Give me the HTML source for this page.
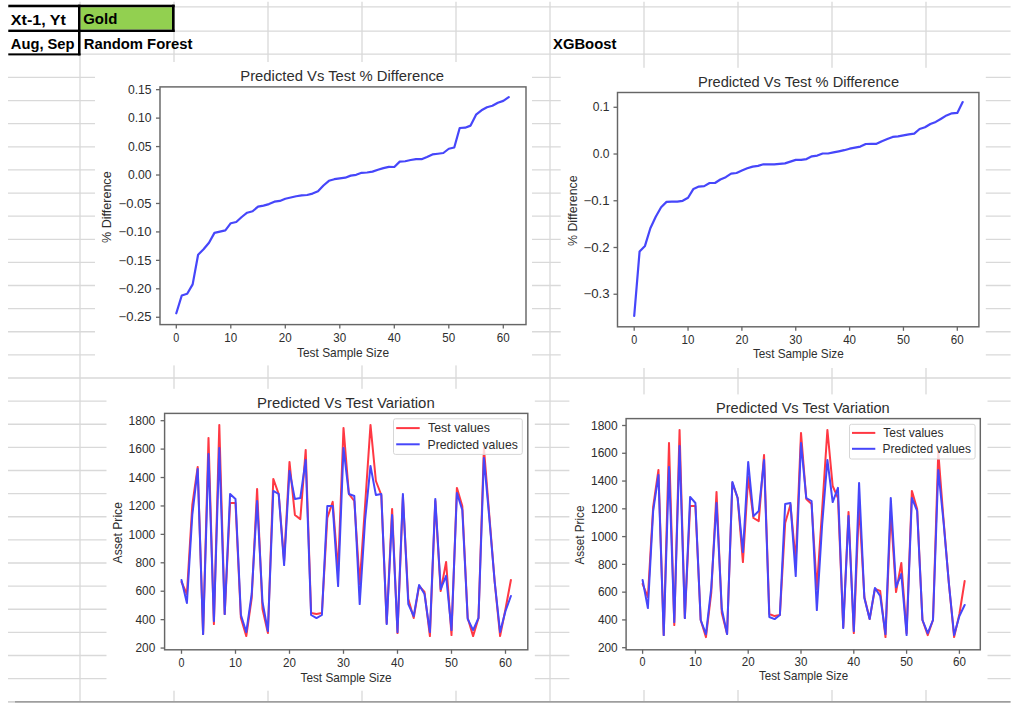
<!DOCTYPE html>
<html><head><meta charset="utf-8"><title>Gold forecasts</title>
<style>
html,body{margin:0;padding:0;background:#fff;width:1024px;height:711px;overflow:hidden}
svg{position:absolute;left:0;top:0;font-family:"Liberation Sans", sans-serif}
</style></head><body>
<svg width="1024" height="711" viewBox="0 0 1024 711">
<line x1="8" y1="6.90" x2="1010.6" y2="6.90" stroke="#d9d9d9" stroke-width="1.3"/>
<line x1="8" y1="31.20" x2="1010.6" y2="31.20" stroke="#d9d9d9" stroke-width="1.3"/>
<line x1="8" y1="54.20" x2="1010.6" y2="54.20" stroke="#d9d9d9" stroke-width="1.3"/>
<line x1="8" y1="77.40" x2="1010.6" y2="77.40" stroke="#d9d9d9" stroke-width="1.3"/>
<line x1="8" y1="100.53" x2="1010.6" y2="100.53" stroke="#d9d9d9" stroke-width="1.3"/>
<line x1="8" y1="123.65" x2="1010.6" y2="123.65" stroke="#d9d9d9" stroke-width="1.3"/>
<line x1="8" y1="146.78" x2="1010.6" y2="146.78" stroke="#d9d9d9" stroke-width="1.3"/>
<line x1="8" y1="169.90" x2="1010.6" y2="169.90" stroke="#d9d9d9" stroke-width="1.3"/>
<line x1="8" y1="193.03" x2="1010.6" y2="193.03" stroke="#d9d9d9" stroke-width="1.3"/>
<line x1="8" y1="216.15" x2="1010.6" y2="216.15" stroke="#d9d9d9" stroke-width="1.3"/>
<line x1="8" y1="239.28" x2="1010.6" y2="239.28" stroke="#d9d9d9" stroke-width="1.3"/>
<line x1="8" y1="262.40" x2="1010.6" y2="262.40" stroke="#d9d9d9" stroke-width="1.3"/>
<line x1="8" y1="285.52" x2="1010.6" y2="285.52" stroke="#d9d9d9" stroke-width="1.3"/>
<line x1="8" y1="308.65" x2="1010.6" y2="308.65" stroke="#d9d9d9" stroke-width="1.3"/>
<line x1="8" y1="331.77" x2="1010.6" y2="331.77" stroke="#d9d9d9" stroke-width="1.3"/>
<line x1="8" y1="354.90" x2="1010.6" y2="354.90" stroke="#d9d9d9" stroke-width="1.3"/>
<line x1="8" y1="378.02" x2="1010.6" y2="378.02" stroke="#d9d9d9" stroke-width="1.3"/>
<line x1="8" y1="401.15" x2="1010.6" y2="401.15" stroke="#d9d9d9" stroke-width="1.3"/>
<line x1="8" y1="424.27" x2="1010.6" y2="424.27" stroke="#d9d9d9" stroke-width="1.3"/>
<line x1="8" y1="447.40" x2="1010.6" y2="447.40" stroke="#d9d9d9" stroke-width="1.3"/>
<line x1="8" y1="470.52" x2="1010.6" y2="470.52" stroke="#d9d9d9" stroke-width="1.3"/>
<line x1="8" y1="493.65" x2="1010.6" y2="493.65" stroke="#d9d9d9" stroke-width="1.3"/>
<line x1="8" y1="516.77" x2="1010.6" y2="516.77" stroke="#d9d9d9" stroke-width="1.3"/>
<line x1="8" y1="539.90" x2="1010.6" y2="539.90" stroke="#d9d9d9" stroke-width="1.3"/>
<line x1="8" y1="563.02" x2="1010.6" y2="563.02" stroke="#d9d9d9" stroke-width="1.3"/>
<line x1="8" y1="586.15" x2="1010.6" y2="586.15" stroke="#d9d9d9" stroke-width="1.3"/>
<line x1="8" y1="609.27" x2="1010.6" y2="609.27" stroke="#d9d9d9" stroke-width="1.3"/>
<line x1="8" y1="632.40" x2="1010.6" y2="632.40" stroke="#d9d9d9" stroke-width="1.3"/>
<line x1="8" y1="655.52" x2="1010.6" y2="655.52" stroke="#d9d9d9" stroke-width="1.3"/>
<line x1="8" y1="678.65" x2="1010.6" y2="678.65" stroke="#d9d9d9" stroke-width="1.3"/>
<line x1="80" y1="1.8" x2="80" y2="702" stroke="#d9d9d9" stroke-width="1.3"/>
<line x1="174" y1="1.8" x2="174" y2="702" stroke="#d9d9d9" stroke-width="1.3"/>
<line x1="268" y1="1.8" x2="268" y2="702" stroke="#d9d9d9" stroke-width="1.3"/>
<line x1="362" y1="1.8" x2="362" y2="702" stroke="#d9d9d9" stroke-width="1.3"/>
<line x1="456" y1="1.8" x2="456" y2="702" stroke="#d9d9d9" stroke-width="1.3"/>
<line x1="550" y1="1.8" x2="550" y2="702" stroke="#d9d9d9" stroke-width="1.3"/>
<line x1="644" y1="1.8" x2="644" y2="702" stroke="#d9d9d9" stroke-width="1.3"/>
<line x1="738" y1="1.8" x2="738" y2="702" stroke="#d9d9d9" stroke-width="1.3"/>
<line x1="832" y1="1.8" x2="832" y2="702" stroke="#d9d9d9" stroke-width="1.3"/>
<line x1="926" y1="1.8" x2="926" y2="702" stroke="#d9d9d9" stroke-width="1.3"/>
<line x1="8" y1="701.9" x2="15" y2="701.9" stroke="#cfcfcf" stroke-width="1.6"/>
<line x1="15" y1="701.9" x2="1010.6" y2="701.9" stroke="#9e9e9e" stroke-width="1.6"/>
<rect x="95" y="62" width="437.00" height="303.40" fill="#fff"/>
<rect x="560.7" y="67.8" width="425.10" height="300.20" fill="#fff"/>
<rect x="106.5" y="388.8" width="428.30" height="301.90" fill="#fff"/>
<rect x="569.4" y="394.4" width="418.10" height="295.60" fill="#fff"/>
<rect x="80.5" y="7.2" width="91.5" height="22.4" fill="#92d050"/>
<rect x="8.3" y="4.7" width="166.30" height="2.50" fill="#000"/>
<rect x="8.3" y="29.6" width="166.30" height="2.40" fill="#000"/>
<rect x="8.3" y="53.4" width="72.20" height="2.00" fill="#000"/>
<rect x="78.0" y="4.7" width="2.50" height="50.70" fill="#000"/>
<rect x="172.0" y="4.7" width="2.60" height="27.30" fill="#000"/>
<text x="10.83" y="24.50" font-size="15.3" font-weight="bold" fill="#000" textLength="55.13" lengthAdjust="spacingAndGlyphs">Xt-1, Yt</text>
<text x="83.23" y="24.30" font-size="15.3" font-weight="bold" fill="#000" textLength="34.13" lengthAdjust="spacingAndGlyphs">Gold</text>
<text x="10.83" y="48.80" font-size="15.3" font-weight="bold" fill="#000" textLength="63.68" lengthAdjust="spacingAndGlyphs">Aug, Sep</text>
<text x="83.73" y="48.50" font-size="15.3" font-weight="bold" fill="#000" textLength="108.63" lengthAdjust="spacingAndGlyphs">Random Forest</text>
<text x="553.03" y="49.00" font-size="15.3" font-weight="bold" fill="#000" textLength="63.33" lengthAdjust="spacingAndGlyphs">XGBoost</text>
<rect x="160.0" y="86.9" width="366.00" height="237.70" fill="none" stroke="#666666" stroke-width="1.45"/>
<line x1="156.00" y1="89.67" x2="160.0" y2="89.67" stroke="#666666" stroke-width="1.3"/>
<text x="151.60" y="93.87" font-size="12.2" fill="#2e2e2e" text-anchor="end" textLength="23.70" lengthAdjust="spacingAndGlyphs">0.15</text>
<line x1="156.00" y1="118.12" x2="160.0" y2="118.12" stroke="#666666" stroke-width="1.3"/>
<text x="151.60" y="122.32" font-size="12.2" fill="#2e2e2e" text-anchor="end" textLength="23.70" lengthAdjust="spacingAndGlyphs">0.10</text>
<line x1="156.00" y1="146.57" x2="160.0" y2="146.57" stroke="#666666" stroke-width="1.3"/>
<text x="151.60" y="150.77" font-size="12.2" fill="#2e2e2e" text-anchor="end" textLength="23.70" lengthAdjust="spacingAndGlyphs">0.05</text>
<line x1="156.00" y1="175.02" x2="160.0" y2="175.02" stroke="#666666" stroke-width="1.3"/>
<text x="151.60" y="179.22" font-size="12.2" fill="#2e2e2e" text-anchor="end" textLength="23.70" lengthAdjust="spacingAndGlyphs">0.00</text>
<line x1="156.00" y1="203.47" x2="160.0" y2="203.47" stroke="#666666" stroke-width="1.3"/>
<text x="151.60" y="207.67" font-size="12.2" fill="#2e2e2e" text-anchor="end" textLength="33.00" lengthAdjust="spacingAndGlyphs">−0.05</text>
<line x1="156.00" y1="231.92" x2="160.0" y2="231.92" stroke="#666666" stroke-width="1.3"/>
<text x="151.60" y="236.12" font-size="12.2" fill="#2e2e2e" text-anchor="end" textLength="33.00" lengthAdjust="spacingAndGlyphs">−0.10</text>
<line x1="156.00" y1="260.36" x2="160.0" y2="260.36" stroke="#666666" stroke-width="1.3"/>
<text x="151.60" y="264.56" font-size="12.2" fill="#2e2e2e" text-anchor="end" textLength="33.00" lengthAdjust="spacingAndGlyphs">−0.15</text>
<line x1="156.00" y1="288.81" x2="160.0" y2="288.81" stroke="#666666" stroke-width="1.3"/>
<text x="151.60" y="293.01" font-size="12.2" fill="#2e2e2e" text-anchor="end" textLength="33.00" lengthAdjust="spacingAndGlyphs">−0.20</text>
<line x1="156.00" y1="317.26" x2="160.0" y2="317.26" stroke="#666666" stroke-width="1.3"/>
<text x="151.60" y="321.46" font-size="12.2" fill="#2e2e2e" text-anchor="end" textLength="33.00" lengthAdjust="spacingAndGlyphs">−0.25</text>
<line x1="176.30" y1="324.6" x2="176.30" y2="328.60" stroke="#666666" stroke-width="1.3"/>
<text x="176.30" y="342.20" font-size="12.2" fill="#2e2e2e" text-anchor="middle" textLength="6.00" lengthAdjust="spacingAndGlyphs">0</text>
<line x1="230.80" y1="324.6" x2="230.80" y2="328.60" stroke="#666666" stroke-width="1.3"/>
<text x="230.80" y="342.20" font-size="12.2" fill="#2e2e2e" text-anchor="middle" textLength="12.90" lengthAdjust="spacingAndGlyphs">10</text>
<line x1="285.30" y1="324.6" x2="285.30" y2="328.60" stroke="#666666" stroke-width="1.3"/>
<text x="285.30" y="342.20" font-size="12.2" fill="#2e2e2e" text-anchor="middle" textLength="12.90" lengthAdjust="spacingAndGlyphs">20</text>
<line x1="339.80" y1="324.6" x2="339.80" y2="328.60" stroke="#666666" stroke-width="1.3"/>
<text x="339.80" y="342.20" font-size="12.2" fill="#2e2e2e" text-anchor="middle" textLength="12.90" lengthAdjust="spacingAndGlyphs">30</text>
<line x1="394.30" y1="324.6" x2="394.30" y2="328.60" stroke="#666666" stroke-width="1.3"/>
<text x="394.30" y="342.20" font-size="12.2" fill="#2e2e2e" text-anchor="middle" textLength="12.90" lengthAdjust="spacingAndGlyphs">40</text>
<line x1="448.80" y1="324.6" x2="448.80" y2="328.60" stroke="#666666" stroke-width="1.3"/>
<text x="448.80" y="342.20" font-size="12.2" fill="#2e2e2e" text-anchor="middle" textLength="12.90" lengthAdjust="spacingAndGlyphs">50</text>
<line x1="503.30" y1="324.6" x2="503.30" y2="328.60" stroke="#666666" stroke-width="1.3"/>
<text x="503.30" y="342.20" font-size="12.2" fill="#2e2e2e" text-anchor="middle" textLength="12.90" lengthAdjust="spacingAndGlyphs">60</text>
<text x="240.31" y="81.10" font-size="13.9" font-weight="normal" fill="#2e2e2e" textLength="203.79" lengthAdjust="spacingAndGlyphs">Predicted Vs Test % Difference</text>
<text x="296.99" y="356.60" font-size="12.2" font-weight="normal" fill="#2e2e2e" textLength="92.02" lengthAdjust="spacingAndGlyphs">Test Sample Size</text>
<text transform="translate(111.00,242.91) rotate(-90)" x="0" y="0" font-size="12.2" fill="#2e2e2e" textLength="71.52" lengthAdjust="spacingAndGlyphs">% Difference</text>
<polyline points="176.30,313.30 181.75,295.50 187.20,293.80 192.65,284.40 198.10,254.70 203.55,249.30 209.00,242.70 214.45,232.90 219.90,231.60 225.35,230.40 230.80,223.20 236.25,222.00 241.70,217.00 247.15,212.70 252.60,211.25 258.05,206.60 263.50,205.60 268.95,204.10 274.40,201.70 279.85,200.90 285.30,198.75 290.75,197.50 296.20,196.25 301.65,195.30 307.10,195.00 312.55,193.60 318.00,191.25 323.45,185.50 328.90,180.80 334.35,179.20 339.80,178.30 345.25,177.70 350.70,175.60 356.15,174.80 361.60,172.80 367.05,172.50 372.50,171.65 377.95,169.80 383.40,168.10 388.85,166.90 394.30,167.00 399.75,161.60 405.20,161.25 410.65,160.00 416.10,159.10 421.55,159.20 427.00,156.90 432.45,154.40 437.90,153.75 443.35,153.00 448.80,148.75 454.25,147.50 459.70,128.00 465.15,127.70 470.60,125.60 476.05,114.70 481.50,110.30 486.95,107.30 492.40,105.80 497.85,102.70 503.30,100.90 508.75,97.20" fill="none" stroke="#4646fa" stroke-width="2.2" stroke-linejoin="round" stroke-linecap="round"/>
<rect x="617.5" y="92.5" width="361.40" height="234.30" fill="none" stroke="#666666" stroke-width="1.45"/>
<line x1="613.50" y1="107.28" x2="617.5" y2="107.28" stroke="#666666" stroke-width="1.3"/>
<text x="609.60" y="111.48" font-size="12.2" fill="#2e2e2e" text-anchor="end" textLength="16.80" lengthAdjust="spacingAndGlyphs">0.1</text>
<line x1="613.50" y1="154.02" x2="617.5" y2="154.02" stroke="#666666" stroke-width="1.3"/>
<text x="609.60" y="158.22" font-size="12.2" fill="#2e2e2e" text-anchor="end" textLength="16.80" lengthAdjust="spacingAndGlyphs">0.0</text>
<line x1="613.50" y1="200.76" x2="617.5" y2="200.76" stroke="#666666" stroke-width="1.3"/>
<text x="609.60" y="204.96" font-size="12.2" fill="#2e2e2e" text-anchor="end" textLength="26.10" lengthAdjust="spacingAndGlyphs">−0.1</text>
<line x1="613.50" y1="247.50" x2="617.5" y2="247.50" stroke="#666666" stroke-width="1.3"/>
<text x="609.60" y="251.70" font-size="12.2" fill="#2e2e2e" text-anchor="end" textLength="26.10" lengthAdjust="spacingAndGlyphs">−0.2</text>
<line x1="613.50" y1="294.24" x2="617.5" y2="294.24" stroke="#666666" stroke-width="1.3"/>
<text x="609.60" y="298.44" font-size="12.2" fill="#2e2e2e" text-anchor="end" textLength="26.10" lengthAdjust="spacingAndGlyphs">−0.3</text>
<line x1="634.20" y1="326.8" x2="634.20" y2="330.80" stroke="#666666" stroke-width="1.3"/>
<text x="634.20" y="343.60" font-size="12.2" fill="#2e2e2e" text-anchor="middle" textLength="6.00" lengthAdjust="spacingAndGlyphs">0</text>
<line x1="688.05" y1="326.8" x2="688.05" y2="330.80" stroke="#666666" stroke-width="1.3"/>
<text x="688.05" y="343.60" font-size="12.2" fill="#2e2e2e" text-anchor="middle" textLength="12.90" lengthAdjust="spacingAndGlyphs">10</text>
<line x1="741.90" y1="326.8" x2="741.90" y2="330.80" stroke="#666666" stroke-width="1.3"/>
<text x="741.90" y="343.60" font-size="12.2" fill="#2e2e2e" text-anchor="middle" textLength="12.90" lengthAdjust="spacingAndGlyphs">20</text>
<line x1="795.75" y1="326.8" x2="795.75" y2="330.80" stroke="#666666" stroke-width="1.3"/>
<text x="795.75" y="343.60" font-size="12.2" fill="#2e2e2e" text-anchor="middle" textLength="12.90" lengthAdjust="spacingAndGlyphs">30</text>
<line x1="849.60" y1="326.8" x2="849.60" y2="330.80" stroke="#666666" stroke-width="1.3"/>
<text x="849.60" y="343.60" font-size="12.2" fill="#2e2e2e" text-anchor="middle" textLength="12.90" lengthAdjust="spacingAndGlyphs">40</text>
<line x1="903.45" y1="326.8" x2="903.45" y2="330.80" stroke="#666666" stroke-width="1.3"/>
<text x="903.45" y="343.60" font-size="12.2" fill="#2e2e2e" text-anchor="middle" textLength="12.90" lengthAdjust="spacingAndGlyphs">50</text>
<line x1="957.30" y1="326.8" x2="957.30" y2="330.80" stroke="#666666" stroke-width="1.3"/>
<text x="957.30" y="343.60" font-size="12.2" fill="#2e2e2e" text-anchor="middle" textLength="12.90" lengthAdjust="spacingAndGlyphs">60</text>
<text x="697.90" y="86.50" font-size="13.9" font-weight="normal" fill="#2e2e2e" textLength="201.19" lengthAdjust="spacingAndGlyphs">Predicted Vs Test % Difference</text>
<text x="752.89" y="357.70" font-size="12.2" font-weight="normal" fill="#2e2e2e" textLength="90.82" lengthAdjust="spacingAndGlyphs">Test Sample Size</text>
<text transform="translate(577.20,246.01) rotate(-90)" x="0" y="0" font-size="12.2" fill="#2e2e2e" textLength="70.62" lengthAdjust="spacingAndGlyphs">% Difference</text>
<polyline points="634.20,316.00 639.59,251.40 644.97,245.90 650.36,228.20 655.74,216.70 661.12,207.20 666.51,201.90 671.90,201.70 677.28,201.70 682.67,200.80 688.05,197.80 693.44,188.90 698.82,186.60 704.21,186.10 709.59,183.00 714.98,183.00 720.36,179.50 725.75,177.20 731.13,173.70 736.52,173.00 741.90,170.60 747.29,168.30 752.67,166.60 758.06,165.90 763.44,164.30 768.83,164.30 774.21,164.30 779.60,163.80 784.98,163.35 790.37,161.60 795.75,159.90 801.13,159.90 806.52,159.05 811.90,156.30 817.29,155.60 822.68,153.50 828.06,153.50 833.45,152.40 838.83,151.30 844.22,150.20 849.60,148.70 854.99,147.70 860.37,146.60 865.75,144.00 871.14,143.80 876.53,143.80 881.91,141.20 887.30,139.10 892.68,136.90 898.07,136.30 903.45,135.40 908.84,134.40 914.22,133.70 919.61,129.00 924.99,127.30 930.38,124.00 935.76,121.90 941.14,118.70 946.53,115.40 951.91,113.30 957.30,112.90 962.69,102.10" fill="none" stroke="#4646fa" stroke-width="2.2" stroke-linejoin="round" stroke-linecap="round"/>
<rect x="164.6" y="413.4" width="363.20" height="236.40" fill="none" stroke="#666666" stroke-width="1.45"/>
<line x1="160.60" y1="420.69" x2="164.6" y2="420.69" stroke="#666666" stroke-width="1.3"/>
<text x="155.30" y="424.89" font-size="12.2" fill="#2e2e2e" text-anchor="end" textLength="26.70" lengthAdjust="spacingAndGlyphs">1800</text>
<line x1="160.60" y1="449.11" x2="164.6" y2="449.11" stroke="#666666" stroke-width="1.3"/>
<text x="155.30" y="453.31" font-size="12.2" fill="#2e2e2e" text-anchor="end" textLength="26.70" lengthAdjust="spacingAndGlyphs">1600</text>
<line x1="160.60" y1="477.53" x2="164.6" y2="477.53" stroke="#666666" stroke-width="1.3"/>
<text x="155.30" y="481.73" font-size="12.2" fill="#2e2e2e" text-anchor="end" textLength="26.70" lengthAdjust="spacingAndGlyphs">1400</text>
<line x1="160.60" y1="505.96" x2="164.6" y2="505.96" stroke="#666666" stroke-width="1.3"/>
<text x="155.30" y="510.16" font-size="12.2" fill="#2e2e2e" text-anchor="end" textLength="26.70" lengthAdjust="spacingAndGlyphs">1200</text>
<line x1="160.60" y1="534.38" x2="164.6" y2="534.38" stroke="#666666" stroke-width="1.3"/>
<text x="155.30" y="538.58" font-size="12.2" fill="#2e2e2e" text-anchor="end" textLength="26.70" lengthAdjust="spacingAndGlyphs">1000</text>
<line x1="160.60" y1="562.80" x2="164.6" y2="562.80" stroke="#666666" stroke-width="1.3"/>
<text x="155.30" y="567.00" font-size="12.2" fill="#2e2e2e" text-anchor="end" textLength="19.80" lengthAdjust="spacingAndGlyphs">800</text>
<line x1="160.60" y1="591.22" x2="164.6" y2="591.22" stroke="#666666" stroke-width="1.3"/>
<text x="155.30" y="595.42" font-size="12.2" fill="#2e2e2e" text-anchor="end" textLength="19.80" lengthAdjust="spacingAndGlyphs">600</text>
<line x1="160.60" y1="619.64" x2="164.6" y2="619.64" stroke="#666666" stroke-width="1.3"/>
<text x="155.30" y="623.84" font-size="12.2" fill="#2e2e2e" text-anchor="end" textLength="19.80" lengthAdjust="spacingAndGlyphs">400</text>
<line x1="160.60" y1="648.06" x2="164.6" y2="648.06" stroke="#666666" stroke-width="1.3"/>
<text x="155.30" y="652.26" font-size="12.2" fill="#2e2e2e" text-anchor="end" textLength="19.80" lengthAdjust="spacingAndGlyphs">200</text>
<line x1="181.50" y1="649.8" x2="181.50" y2="653.80" stroke="#666666" stroke-width="1.3"/>
<text x="181.50" y="667.20" font-size="12.2" fill="#2e2e2e" text-anchor="middle" textLength="6.00" lengthAdjust="spacingAndGlyphs">0</text>
<line x1="235.50" y1="649.8" x2="235.50" y2="653.80" stroke="#666666" stroke-width="1.3"/>
<text x="235.50" y="667.20" font-size="12.2" fill="#2e2e2e" text-anchor="middle" textLength="12.90" lengthAdjust="spacingAndGlyphs">10</text>
<line x1="289.50" y1="649.8" x2="289.50" y2="653.80" stroke="#666666" stroke-width="1.3"/>
<text x="289.50" y="667.20" font-size="12.2" fill="#2e2e2e" text-anchor="middle" textLength="12.90" lengthAdjust="spacingAndGlyphs">20</text>
<line x1="343.50" y1="649.8" x2="343.50" y2="653.80" stroke="#666666" stroke-width="1.3"/>
<text x="343.50" y="667.20" font-size="12.2" fill="#2e2e2e" text-anchor="middle" textLength="12.90" lengthAdjust="spacingAndGlyphs">30</text>
<line x1="397.50" y1="649.8" x2="397.50" y2="653.80" stroke="#666666" stroke-width="1.3"/>
<text x="397.50" y="667.20" font-size="12.2" fill="#2e2e2e" text-anchor="middle" textLength="12.90" lengthAdjust="spacingAndGlyphs">40</text>
<line x1="451.50" y1="649.8" x2="451.50" y2="653.80" stroke="#666666" stroke-width="1.3"/>
<text x="451.50" y="667.20" font-size="12.2" fill="#2e2e2e" text-anchor="middle" textLength="12.90" lengthAdjust="spacingAndGlyphs">50</text>
<line x1="505.50" y1="649.8" x2="505.50" y2="653.80" stroke="#666666" stroke-width="1.3"/>
<text x="505.50" y="667.20" font-size="12.2" fill="#2e2e2e" text-anchor="middle" textLength="12.90" lengthAdjust="spacingAndGlyphs">60</text>
<text x="257.11" y="407.50" font-size="13.9" font-weight="normal" fill="#2e2e2e" textLength="177.59" lengthAdjust="spacingAndGlyphs">Predicted Vs Test Variation</text>
<text x="300.49" y="681.60" font-size="12.2" font-weight="normal" fill="#2e2e2e" textLength="91.12" lengthAdjust="spacingAndGlyphs">Test Sample Size</text>
<text transform="translate(122.00,563.41) rotate(-90)" x="0" y="0" font-size="12.2" fill="#2e2e2e" textLength="61.32" lengthAdjust="spacingAndGlyphs">Asset Price</text>
<polyline points="181.50,582.00 186.90,594.10 192.30,505.00 197.70,466.90 203.10,634.10 208.50,437.90 213.90,624.10 219.30,424.90 224.70,614.10 230.10,502.90 235.50,503.00 240.90,618.00 246.30,636.10 251.70,598.00 257.10,488.90 262.50,609.00 267.90,633.10 273.30,478.90 278.70,494.00 284.10,561.10 289.50,461.90 294.90,515.00 300.30,519.10 305.70,449.90 311.10,613.00 316.50,614.10 321.90,613.00 327.30,518.00 332.70,501.90 338.10,571.10 343.50,427.90 348.90,494.00 354.30,501.00 359.70,584.10 365.10,505.00 370.50,424.90 375.90,481.00 381.30,495.00 386.70,623.10 392.10,508.90 397.50,633.10 402.90,496.90 408.30,599.00 413.70,618.10 419.10,585.90 424.50,592.00 429.90,636.10 435.30,500.90 440.70,591.10 446.10,561.90 451.50,635.10 456.90,487.90 462.30,506.00 467.70,618.00 473.10,636.10 478.50,618.00 483.90,447.90 489.30,515.00 494.70,582.00 500.10,636.10 505.50,609.00 510.90,580.00" fill="none" stroke="#ff3843" stroke-width="2.0" stroke-linejoin="round" stroke-linecap="round"/>
<polyline points="181.50,580.00 186.90,603.10 192.30,515.00 197.70,468.90 203.10,634.10 208.50,453.90 213.90,621.10 219.30,447.90 224.70,614.10 230.10,493.90 235.50,499.00 240.90,615.00 246.30,632.10 251.70,594.00 257.10,500.90 262.50,602.00 267.90,631.10 273.30,490.90 278.70,494.00 284.10,565.10 289.50,470.90 294.90,499.10 300.30,498.00 305.70,459.90 311.10,615.00 316.50,618.10 321.90,615.00 327.30,506.00 332.70,506.00 338.10,586.10 343.50,447.90 348.90,494.00 354.30,496.00 359.70,604.10 365.10,520.00 370.50,465.90 375.90,495.10 381.30,493.90 386.70,624.10 392.10,514.90 397.50,632.10 402.90,493.90 408.30,604.00 413.70,616.10 419.10,584.90 424.50,594.00 429.90,632.10 435.30,498.90 440.70,589.10 446.10,575.90 451.50,630.10 456.90,492.90 462.30,510.00 467.70,619.00 473.10,630.10 478.50,618.00 483.90,457.90 489.30,518.00 494.70,582.00 500.10,632.10 505.50,611.00 510.90,596.00" fill="none" stroke="#4646fa" stroke-width="2.0" stroke-linejoin="round" stroke-linecap="round"/>
<rect x="626.1" y="418.6" width="354.20" height="231.20" fill="none" stroke="#666666" stroke-width="1.45"/>
<line x1="622.10" y1="425.50" x2="626.1" y2="425.50" stroke="#666666" stroke-width="1.3"/>
<text x="617.70" y="429.70" font-size="12.2" fill="#2e2e2e" text-anchor="end" textLength="26.70" lengthAdjust="spacingAndGlyphs">1800</text>
<line x1="622.10" y1="453.27" x2="626.1" y2="453.27" stroke="#666666" stroke-width="1.3"/>
<text x="617.70" y="457.47" font-size="12.2" fill="#2e2e2e" text-anchor="end" textLength="26.70" lengthAdjust="spacingAndGlyphs">1600</text>
<line x1="622.10" y1="481.05" x2="626.1" y2="481.05" stroke="#666666" stroke-width="1.3"/>
<text x="617.70" y="485.25" font-size="12.2" fill="#2e2e2e" text-anchor="end" textLength="26.70" lengthAdjust="spacingAndGlyphs">1400</text>
<line x1="622.10" y1="508.82" x2="626.1" y2="508.82" stroke="#666666" stroke-width="1.3"/>
<text x="617.70" y="513.02" font-size="12.2" fill="#2e2e2e" text-anchor="end" textLength="26.70" lengthAdjust="spacingAndGlyphs">1200</text>
<line x1="622.10" y1="536.60" x2="626.1" y2="536.60" stroke="#666666" stroke-width="1.3"/>
<text x="617.70" y="540.80" font-size="12.2" fill="#2e2e2e" text-anchor="end" textLength="26.70" lengthAdjust="spacingAndGlyphs">1000</text>
<line x1="622.10" y1="564.37" x2="626.1" y2="564.37" stroke="#666666" stroke-width="1.3"/>
<text x="617.70" y="568.57" font-size="12.2" fill="#2e2e2e" text-anchor="end" textLength="19.80" lengthAdjust="spacingAndGlyphs">800</text>
<line x1="622.10" y1="592.15" x2="626.1" y2="592.15" stroke="#666666" stroke-width="1.3"/>
<text x="617.70" y="596.35" font-size="12.2" fill="#2e2e2e" text-anchor="end" textLength="19.80" lengthAdjust="spacingAndGlyphs">600</text>
<line x1="622.10" y1="619.92" x2="626.1" y2="619.92" stroke="#666666" stroke-width="1.3"/>
<text x="617.70" y="624.12" font-size="12.2" fill="#2e2e2e" text-anchor="end" textLength="19.80" lengthAdjust="spacingAndGlyphs">400</text>
<line x1="622.10" y1="647.70" x2="626.1" y2="647.70" stroke="#666666" stroke-width="1.3"/>
<text x="617.70" y="651.90" font-size="12.2" fill="#2e2e2e" text-anchor="end" textLength="19.80" lengthAdjust="spacingAndGlyphs">200</text>
<line x1="642.60" y1="649.8" x2="642.60" y2="653.80" stroke="#666666" stroke-width="1.3"/>
<text x="642.60" y="666.00" font-size="12.2" fill="#2e2e2e" text-anchor="middle" textLength="6.00" lengthAdjust="spacingAndGlyphs">0</text>
<line x1="695.40" y1="649.8" x2="695.40" y2="653.80" stroke="#666666" stroke-width="1.3"/>
<text x="695.40" y="666.00" font-size="12.2" fill="#2e2e2e" text-anchor="middle" textLength="12.90" lengthAdjust="spacingAndGlyphs">10</text>
<line x1="748.20" y1="649.8" x2="748.20" y2="653.80" stroke="#666666" stroke-width="1.3"/>
<text x="748.20" y="666.00" font-size="12.2" fill="#2e2e2e" text-anchor="middle" textLength="12.90" lengthAdjust="spacingAndGlyphs">20</text>
<line x1="801.00" y1="649.8" x2="801.00" y2="653.80" stroke="#666666" stroke-width="1.3"/>
<text x="801.00" y="666.00" font-size="12.2" fill="#2e2e2e" text-anchor="middle" textLength="12.90" lengthAdjust="spacingAndGlyphs">30</text>
<line x1="853.80" y1="649.8" x2="853.80" y2="653.80" stroke="#666666" stroke-width="1.3"/>
<text x="853.80" y="666.00" font-size="12.2" fill="#2e2e2e" text-anchor="middle" textLength="12.90" lengthAdjust="spacingAndGlyphs">40</text>
<line x1="906.60" y1="649.8" x2="906.60" y2="653.80" stroke="#666666" stroke-width="1.3"/>
<text x="906.60" y="666.00" font-size="12.2" fill="#2e2e2e" text-anchor="middle" textLength="12.90" lengthAdjust="spacingAndGlyphs">50</text>
<line x1="959.40" y1="649.8" x2="959.40" y2="653.80" stroke="#666666" stroke-width="1.3"/>
<text x="959.40" y="666.00" font-size="12.2" fill="#2e2e2e" text-anchor="middle" textLength="12.90" lengthAdjust="spacingAndGlyphs">60</text>
<text x="716.00" y="412.80" font-size="13.9" font-weight="normal" fill="#2e2e2e" textLength="173.69" lengthAdjust="spacingAndGlyphs">Predicted Vs Test Variation</text>
<text x="758.99" y="680.40" font-size="12.2" font-weight="normal" fill="#2e2e2e" textLength="89.22" lengthAdjust="spacingAndGlyphs">Test Sample Size</text>
<text transform="translate(584.40,564.61) rotate(-90)" x="0" y="0" font-size="12.2" fill="#2e2e2e" textLength="59.02" lengthAdjust="spacingAndGlyphs">Asset Price</text>
<polyline points="642.60,584.00 647.88,597.10 653.16,507.00 658.44,469.90 663.72,635.10 669.00,442.90 674.28,625.10 679.56,429.90 684.84,618.10 690.12,506.00 695.40,506.00 700.68,620.00 705.96,637.10 711.24,593.00 716.52,491.90 721.80,613.00 727.08,634.10 732.36,482.90 737.64,498.00 742.92,562.10 748.20,476.90 753.48,518.00 758.76,521.10 764.04,454.90 769.32,614.00 774.60,616.10 779.88,615.00 785.16,523.00 790.44,504.90 795.72,561.10 801.00,432.90 806.28,499.00 811.56,504.00 816.84,589.10 822.12,510.00 827.40,429.90 832.68,486.00 837.96,498.00 843.24,627.10 848.52,511.90 853.80,633.10 859.08,503.90 864.36,597.00 869.64,619.10 874.92,588.90 880.20,591.00 885.48,637.10 890.76,510.90 896.04,592.10 901.32,562.90 906.60,633.10 911.88,490.90 917.16,509.00 922.44,620.00 927.72,635.10 933.00,620.00 938.28,451.90 943.56,520.00 948.84,583.00 954.12,637.10 959.40,614.00 964.68,581.00" fill="none" stroke="#ff3843" stroke-width="2.0" stroke-linejoin="round" stroke-linecap="round"/>
<polyline points="642.60,580.00 647.88,608.10 653.16,511.00 658.44,474.90 663.72,635.10 669.00,466.90 674.28,622.10 679.56,445.90 684.84,618.10 690.12,496.90 695.40,503.00 700.68,620.00 705.96,634.10 711.24,588.00 716.52,502.90 721.80,609.00 727.08,634.10 732.36,481.90 737.64,498.00 742.92,552.10 748.20,461.90 753.48,516.10 758.76,511.00 764.04,459.90 769.32,617.00 774.60,619.10 779.88,615.00 785.16,504.00 790.44,502.90 795.72,576.10 801.00,442.90 806.28,498.00 811.56,501.00 816.84,610.10 822.12,525.00 827.40,459.90 832.68,502.10 837.96,487.90 843.24,628.10 848.52,515.90 853.80,631.10 859.08,482.90 864.36,598.00 869.64,619.10 874.92,587.90 880.20,596.00 885.48,634.10 890.76,497.90 896.04,587.10 901.32,573.90 906.60,635.10 911.88,497.90 917.16,511.00 922.44,620.00 927.72,633.10 933.00,620.00 938.28,469.90 943.56,522.00 948.84,583.00 954.12,635.10 959.40,616.00 964.68,605.00" fill="none" stroke="#4646fa" stroke-width="2.0" stroke-linejoin="round" stroke-linecap="round"/>
<rect x="393.5" y="418.8" width="128.80" height="35.60" rx="2" fill="#fff" fill-opacity="0.8" stroke="#d6d6d6" stroke-width="1"/>
<line x1="396.2" y1="428.1" x2="419.7" y2="428.1" stroke="#ff3843" stroke-width="2"/>
<line x1="396.2" y1="444.3" x2="419.7" y2="444.3" stroke="#4646fa" stroke-width="2"/>
<text x="428.09" y="432.40" font-size="12.2" font-weight="normal" fill="#2e2e2e" textLength="61.72" lengthAdjust="spacingAndGlyphs">Test values</text>
<text x="427.49" y="448.60" font-size="12.2" font-weight="normal" fill="#2e2e2e" textLength="90.32" lengthAdjust="spacingAndGlyphs">Predicted values</text>
<rect x="849.5" y="424.3" width="125.60" height="34.70" rx="2" fill="#fff" fill-opacity="0.8" stroke="#d6d6d6" stroke-width="1"/>
<line x1="852.0" y1="432.9" x2="875.3" y2="432.9" stroke="#ff3843" stroke-width="2"/>
<line x1="852.0" y1="448.8" x2="875.3" y2="448.8" stroke="#4646fa" stroke-width="2"/>
<text x="883.19" y="437.20" font-size="12.2" font-weight="normal" fill="#2e2e2e" textLength="60.32" lengthAdjust="spacingAndGlyphs">Test values</text>
<text x="882.59" y="453.10" font-size="12.2" font-weight="normal" fill="#2e2e2e" textLength="88.32" lengthAdjust="spacingAndGlyphs">Predicted values</text>
</svg>
</body></html>
